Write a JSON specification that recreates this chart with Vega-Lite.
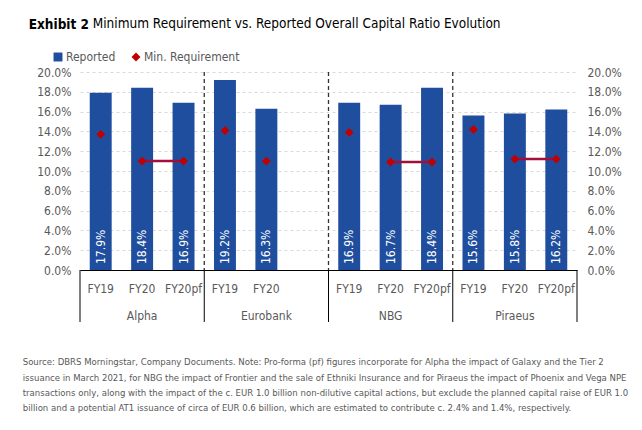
{
  "$schema": "https://vega.github.io/schema/vega-lite/v6.json",
  "background": "white",
  "padding": {"left": 22, "top": 16, "right": 5, "bottom": 5},
  "title": {"text": "Exhibit 2", "anchor": "start", "fontWeight": "bold", "fontSize": 13.5, "color": "#000000", "dx": 6, "offset": -15},
  "datasets": {
    "banks": [
      {"bank": "Alpha", "period": "FY19", "key": "Alpha|FY19", "reported": 0.179, "minreq": 0.137},
      {"bank": "Alpha", "period": "FY20", "key": "Alpha|FY20", "reported": 0.184, "minreq": 0.110},
      {"bank": "Alpha", "period": "FY20pf", "key": "Alpha|FY20pf", "reported": 0.169, "minreq": 0.110},
      {"bank": "Eurobank", "period": "FY19", "key": "Eurobank|FY19", "reported": 0.192, "minreq": 0.141},
      {"bank": "Eurobank", "period": "FY20", "key": "Eurobank|FY20", "reported": 0.163, "minreq": 0.110},
      {"bank": "NBG", "period": "FY19", "key": "NBG|FY19", "reported": 0.169, "minreq": 0.139},
      {"bank": "NBG", "period": "FY20", "key": "NBG|FY20", "reported": 0.167, "minreq": 0.109},
      {"bank": "NBG", "period": "FY20pf", "key": "NBG|FY20pf", "reported": 0.184, "minreq": 0.109},
      {"bank": "Piraeus", "period": "FY19", "key": "Piraeus|FY19", "reported": 0.156, "minreq": 0.142},
      {"bank": "Piraeus", "period": "FY20", "key": "Piraeus|FY20", "reported": 0.158, "minreq": 0.112},
      {"bank": "Piraeus", "period": "FY20pf", "key": "Piraeus|FY20pf", "reported": 0.162, "minreq": 0.112}
    ],
    "edges": [
      {"key": "Alpha|FY19", "kind": "outer"},
      {"key": "Eurobank|FY19", "kind": "inner"},
      {"key": "NBG|FY19", "kind": "inner"},
      {"key": "Piraeus|FY19", "kind": "inner"}
    ]
  },
  "vconcat": [
    {
      "title": {
        "text": [
          "Source: DBRS Morningstar, Company Documents. Note: Pro-forma (pf) figures incorporate for Alpha the impact of Galaxy and the Tier 2",
          "issuance in March 2021, for NBG the impact of Frontier and the sale of Ethniki Insurance and for Piraeus the impact of Phoenix and Vega NPE",
          "transactions only, along with the impact of the c. EUR 1.0 billion non-dilutive  capital actions, but exclude the planned capital raise of EUR 1.0",
          "billion and a potential AT1 issuance of circa of EUR 0.6 billion, which are estimated to contribute c. 2.4% and 1.4%, respectively."
        ],
        "orient": "bottom", "anchor": "start", "fontSize": 9.5, "fontWeight": "normal", "lineHeight": 15.3, "color": "#595959", "offset": 35, "dx": -14
      },
      "vconcat": [
        {
          "width": 497,
          "height": 198,
          "title": {"text": "Minimum Requirement vs. Reported Overall Capital Ratio Evolution", "anchor": "start", "fontWeight": "normal", "fontSize": 13.5, "color": "#000000", "dx": 56, "dy": -32},
          "resolve": {"axis": {"y": "independent"}},
          "layer": [
            {
              "data": {"name": "banks"},
              "mark": {"type": "bar", "width": {"band": 0.53}},
              "encoding": {
                "x": {"field": "key", "type": "nominal", "title": null,
                  "scale": {"domain": ["Alpha|FY19","Alpha|FY20","Alpha|FY20pf","Eurobank|FY19","Eurobank|FY20","Eurobank|","NBG|FY19","NBG|FY20","NBG|FY20pf","Piraeus|FY19","Piraeus|FY20","Piraeus|FY20pf"], "paddingInner": 0, "paddingOuter": 0},
                  "axis": {"labelExpr": "split(datum.value, '|')[1]", "labelAngle": 0, "ticks": false, "domainColor": "#000000", "labelColor": "#595959", "labelFontSize": 12, "labelPadding": 13, "grid": false}},
                "y": {"field": "reported", "type": "quantitative", "title": null,
                  "scale": {"domain": [0, 0.2], "nice": false},
                  "axis": {"orient": "left", "format": ".1%", "values": [0,0.02,0.04,0.06,0.08,0.1,0.12,0.14,0.16,0.18,0.2], "domain": false, "ticks": false, "labelColor": "#595959", "labelFontSize": 12, "labelPadding": 9, "grid": true, "gridColor": "#D9D9D9", "gridDash": [3, 3]}},
                "color": {"datum": "Reported", "type": "nominal",
                  "scale": {"domain": ["Reported", "Min. Requirement"], "range": ["#1F4E9E", "#C00000"]},
                  "legend": {"title": null, "orient": "none", "legendX": -28, "legendY": -21, "direction": "horizontal", "labelFontSize": 12, "labelColor": "#595959", "symbolSize": 80, "columnPadding": 14, "labelOffset": 2,
                    "encode": {"symbols": {"update": {"shape": {"signal": "datum.value == 'Reported' ? 'square' : 'diamond'"}}}}}}
              }
            },
            {
              "data": {"name": "banks"},
              "mark": {"type": "text", "angle": 270, "align": "left", "baseline": "middle", "dx": 6, "color": "#FFFFFF", "fontSize": 12},
              "encoding": {
                "x": {"field": "key", "type": "nominal", "title": null},
                "y": {"datum": 0, "type": "quantitative", "axis": null},
                "text": {"field": "reported", "type": "quantitative", "format": ".1%"}
              }
            },
            {
              "data": {"name": "edges"},
              "transform": [{"filter": "datum.kind == 'inner'"}],
              "mark": {"type": "rule", "color": "#333333", "strokeDash": [4, 3], "strokeWidth": 1.3},
              "encoding": {
                "x": {"field": "key", "type": "nominal", "bandPosition": 0, "title": null},
                "y": {"datum": 0.2, "type": "quantitative", "axis": null},
                "y2": {"datum": 0}
              }
            },
            {
              "data": {"name": "edges"},
              "mark": {"type": "rule", "color": "#000000", "strokeWidth": 1},
              "encoding": {
                "x": {"field": "key", "type": "nominal", "bandPosition": 0, "title": null},
                "y": {"datum": 0, "type": "quantitative", "axis": null},
                "y2": {"datum": -0.0525}
              }
            },
            {
              "data": {"name": "banks"},
              "transform": [{"filter": "datum.key == 'Piraeus|FY20pf'"}],
              "mark": {"type": "rule", "color": "#000000", "strokeWidth": 1},
              "encoding": {
                "x": {"field": "key", "type": "nominal", "bandPosition": 1, "title": null},
                "y": {"datum": 0, "type": "quantitative", "axis": null},
                "y2": {"datum": -0.0525}
              }
            },
            {
              "data": {"name": "banks"},
              "transform": [{"filter": "datum.period == 'FY20'"}],
              "mark": {"type": "text", "baseline": "middle", "align": "center", "fontSize": 12, "color": "#595959"},
              "encoding": {
                "x": {"field": "key", "type": "nominal", "title": null},
                "y": {"datum": -0.0465, "type": "quantitative", "axis": null},
                "text": {"field": "bank", "type": "nominal"}
              }
            },
            {
              "data": {"name": "banks"},
              "transform": [{"filter": "datum.period != 'FY19'"}],
              "mark": {"type": "line", "color": "#A0103A", "strokeWidth": 2.5},
              "encoding": {
                "x": {"field": "key", "type": "nominal", "title": null},
                "y": {"field": "minreq", "type": "quantitative", "axis": null},
                "detail": {"field": "bank", "type": "nominal"}
              }
            },
            {
              "data": {"name": "banks"},
              "mark": {"type": "point", "shape": "diamond", "filled": true, "size": 80, "opacity": 1},
              "encoding": {
                "x": {"field": "key", "type": "nominal", "title": null},
                "y": {"field": "minreq", "type": "quantitative", "title": null,
                  "axis": {"orient": "right", "format": ".1%", "values": [0,0.02,0.04,0.06,0.08,0.1,0.12,0.14,0.16,0.18,0.2], "domain": false, "ticks": false, "labelColor": "#595959", "labelFontSize": 12, "labelPadding": 10, "grid": false}},
                "color": {"datum": "Min. Requirement", "type": "nominal"}
              }
            }
          ]
        }
      ]
    }
  ],
  "config": {
    "font": "DejaVu Sans Condensed, sans-serif",
    "view": {"stroke": null},
    "concat": {"spacing": 0}
  }
}
